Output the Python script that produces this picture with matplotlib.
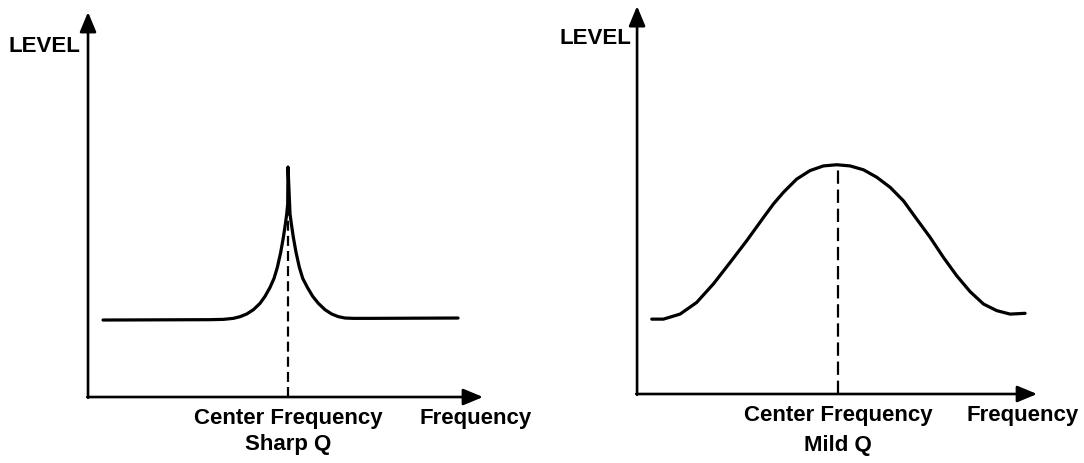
import matplotlib.pyplot as plt

# Sharp Q response (frequency, level) in arbitrary units 0..10
sharp_freq = [0.38, 3.089, 3.426, 3.679, 3.848, 4.017, 4.186, 4.354, 4.481, 4.608, 4.709,
              4.793, 4.878, 4.945, 4.996, 5.030, 5.055, 5.063,
              5.114, 5.148, 5.198, 5.266, 5.350, 5.435, 5.553, 5.688, 5.831, 6.000,
              6.169, 6.338, 6.506, 6.717, 7.139, 9.367]
sharp_level = [2.00, 2.009, 2.017, 2.043, 2.087, 2.156, 2.268, 2.433, 2.615, 2.848, 3.082,
               3.368, 3.758, 4.147, 4.494, 4.753, 5.013, 5.974,
               4.753, 4.494, 4.147, 3.758, 3.368, 3.082, 2.848, 2.615, 2.433, 2.268,
               2.156, 2.087, 2.052, 2.043, 2.043, 2.052]
sharp_center = 5.06
sharp_peak = 5.0

# Mild Q response
mild_freq = [0.367, 0.658, 1.075, 1.49, 1.91, 2.325, 2.74, 3.16, 3.41, 3.66, 3.99, 4.325,
             4.66, 4.99, 5.325, 5.66, 5.99, 6.325, 6.66, 6.99, 7.325, 7.66, 7.99, 8.325,
             8.66, 8.99, 9.325, 9.70]
mild_level = [1.93, 1.93, 2.06, 2.36, 2.84, 3.39, 3.95, 4.55, 4.90, 5.20, 5.54, 5.76,
              5.88, 5.91, 5.88, 5.78, 5.59, 5.33, 4.98, 4.51, 4.04, 3.52, 3.05, 2.64,
              2.32, 2.15, 2.06, 2.08]
mild_center = 5.03
mild_peak = 5.91

panels = [
    dict(rect=[0.0812, 0.1422, 0.3644, 0.8297], freq=sharp_freq, level=sharp_level,
         center=sharp_center, peak=sharp_peak, title="Sharp Q", dash=(4.5, 2.3),
         level_pos=(-0.2, 9.12), freq_x=9.8, cf_y=-0.52, q_y=-1.22),
    dict(rect=[0.5877, 0.1487, 0.3690, 0.8360], freq=mild_freq, level=mild_level,
         center=mild_center, peak=mild_peak, title="Mild Q", dash=(6.0, 2.6),
         level_pos=(-0.15, 9.2), freq_x=9.63, cf_y=-0.52, q_y=-1.29),
]

plt.rcParams['font.family'] = ['Liberation Sans', 'DejaVu Sans']

fig = plt.figure(figsize=(10.84, 4.64), dpi=100)

for p in panels:
    ax = fig.add_axes(p["rect"])
    ax.set_xlim(0, 10)
    ax.set_ylim(0, 10)
    ax.axis("off")

    # axes with arrow heads
    arrow = dict(arrowstyle="-|>,head_length=0.6,head_width=0.25", lw=1.9,
                 color="black", mutation_scale=20, shrinkA=0, shrinkB=0)
    ax.annotate("", xy=(0, 10), xytext=(0, -0.02), arrowprops=arrow,
                annotation_clip=False)
    ax.annotate("", xy=(10, 0), xytext=(-0.02, 0), arrowprops=arrow,
                annotation_clip=False)

    # center frequency marker
    ax.plot([p["center"], p["center"]], [0, p["peak"]], color="black", lw=1.6,
            dashes=p["dash"], solid_capstyle="butt")

    # response curve
    ax.plot(p["freq"], p["level"], color="black", lw=2.3,
            solid_joinstyle="round", solid_capstyle="round")

    tk = dict(fontsize=16, fontweight="bold", color="black", clip_on=False)
    ax.text(p["level_pos"][0], p["level_pos"][1], "LEVEL", ha="right", va="center", **tk)
    ax.text(p["center"], p["cf_y"], "Center Frequency", ha="center", va="center", **tk)
    ax.text(p["freq_x"], p["cf_y"], "Frequency", ha="center", va="center", **tk)
    ax.text(p["center"], p["q_y"], p["title"], ha="center", va="center", **tk)

fig.savefig("out.png", dpi=100, facecolor="white")
plt.close(fig)
